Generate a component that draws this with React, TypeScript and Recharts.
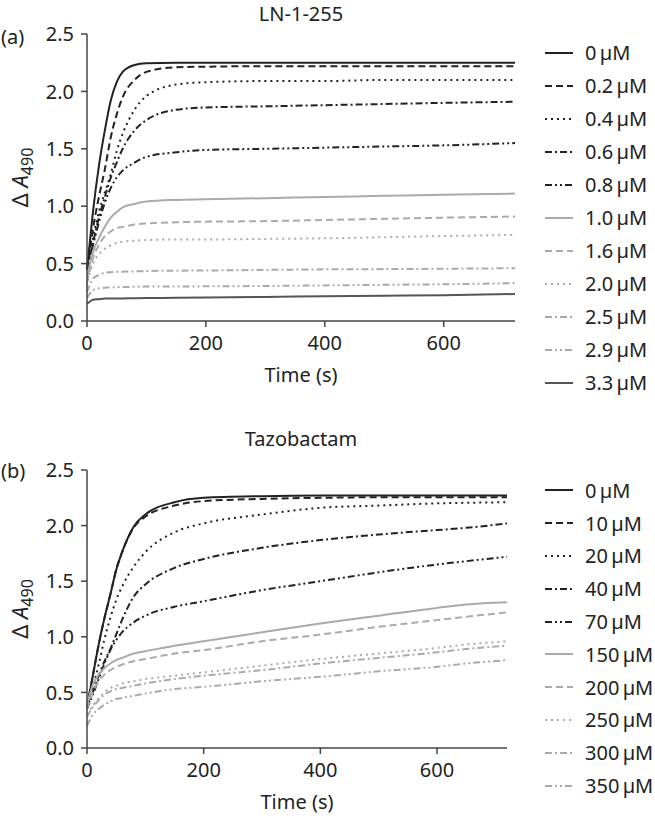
import { LineChart, Line, XAxis, YAxis } from 'recharts';

const FONT = '"Noto Sans", sans-serif';
const INK = '#222';
const GREY = '#aaa';
const DARK_GREY = '#555';

// (a) LN-1-255
const timesA = [0, 5, 10, 20, 30, 40, 50, 60, 80, 100, 150, 200, 300, 400, 500, 600, 720];
const labelsA = ['0\u2009µM', '0.2\u2009µM', '0.4\u2009µM', '0.6\u2009µM', '0.8\u2009µM', '1.0\u2009µM', '1.6\u2009µM', '2.0\u2009µM', '2.5\u2009µM', '2.9\u2009µM', '3.3\u2009µM'];
const ln0 = [0.45, 0.7, 0.95, 1.35, 1.66, 1.92, 2.08, 2.17, 2.23, 2.245, 2.25, 2.25, 2.25, 2.25, 2.25, 2.25, 2.25];
const ln02 = [0.45, 0.62, 0.8, 1.08, 1.32, 1.6, 1.8, 1.95, 2.1, 2.17, 2.21, 2.215, 2.22, 2.22, 2.22, 2.22, 2.22];
const ln04 = [0.45, 0.58, 0.72, 0.95, 1.12, 1.28, 1.48, 1.63, 1.84, 1.96, 2.06, 2.08, 2.09, 2.09, 2.1, 2.1, 2.1];
const ln06 = [0.45, 0.57, 0.68, 0.9, 1.08, 1.25, 1.38, 1.5, 1.66, 1.75, 1.84, 1.86, 1.87, 1.88, 1.89, 1.9, 1.91];
const ln08 = [0.45, 0.56, 0.66, 0.86, 1.03, 1.16, 1.25, 1.31, 1.38, 1.43, 1.47, 1.49, 1.5, 1.51, 1.52, 1.53, 1.55];
const ln10 = [0.35, 0.5, 0.6, 0.72, 0.82, 0.9, 0.95, 0.99, 1.02, 1.04, 1.055, 1.06, 1.07, 1.08, 1.09, 1.1, 1.11];
const ln16 = [0.33, 0.45, 0.55, 0.66, 0.74, 0.78, 0.81, 0.82, 0.84, 0.85, 0.86, 0.865, 0.87, 0.88, 0.89, 0.9, 0.91];
const ln20 = [0.3, 0.42, 0.5, 0.58, 0.63, 0.66, 0.68, 0.69, 0.7, 0.705, 0.71, 0.71, 0.715, 0.72, 0.73, 0.74, 0.75];
const ln25 = [0.25, 0.32, 0.37, 0.4, 0.42, 0.425, 0.43, 0.43, 0.432, 0.435, 0.438, 0.44, 0.445, 0.45, 0.452, 0.455, 0.46];
const ln29 = [0.2, 0.24, 0.27, 0.285, 0.29, 0.292, 0.295, 0.296, 0.298, 0.3, 0.3, 0.302, 0.305, 0.31, 0.315, 0.32, 0.33];
const ln33 = [0.15, 0.17, 0.185, 0.19, 0.195, 0.195, 0.196, 0.197, 0.198, 0.2, 0.202, 0.205, 0.21, 0.215, 0.22, 0.225, 0.235];

// (b) Tazobactam
const timesB = [0, 10, 20, 30, 40, 50, 60, 80, 100, 150, 200, 300, 400, 500, 600, 650, 720];
const labelsB = ['0\u2009µM', '10\u2009µM', '20\u2009µM', '40\u2009µM', '70\u2009µM', '150\u2009µM', '200\u2009µM', '250\u2009µM', '300\u2009µM', '350\u2009µM'];
const tz0 = [0.37, 0.65, 0.93, 1.17, 1.38, 1.6, 1.76, 1.99, 2.1, 2.21, 2.25, 2.265, 2.27, 2.27, 2.27, 2.27, 2.27];
const tz10 = [0.37, 0.65, 0.93, 1.17, 1.38, 1.6, 1.76, 1.98, 2.08, 2.18, 2.22, 2.24, 2.25, 2.255, 2.255, 2.255, 2.255];
const tz20 = [0.37, 0.55, 0.75, 0.98, 1.17, 1.33, 1.45, 1.63, 1.76, 1.94, 2.02, 2.1, 2.16, 2.18, 2.2, 2.205, 2.21];
const tz40 = [0.37, 0.5, 0.65, 0.78, 0.89, 1.02, 1.15, 1.36, 1.47, 1.62, 1.7, 1.8, 1.87, 1.92, 1.96, 1.98, 2.02];
const tz70 = [0.35, 0.48, 0.62, 0.76, 0.88, 0.97, 1.04, 1.13, 1.19, 1.27, 1.32, 1.42, 1.5, 1.58, 1.65, 1.68, 1.72];
const tz150 = [0.38, 0.57, 0.66, 0.72, 0.76, 0.79, 0.81, 0.85, 0.87, 0.92, 0.96, 1.04, 1.12, 1.19, 1.26, 1.29, 1.31];
const tz200 = [0.35, 0.5, 0.6, 0.66, 0.7, 0.73, 0.75, 0.78, 0.8, 0.85, 0.88, 0.96, 1.02, 1.09, 1.15, 1.18, 1.22];
const tz250 = [0.3, 0.38, 0.45, 0.5, 0.54, 0.56, 0.58, 0.6, 0.62, 0.65, 0.68, 0.74, 0.8, 0.85, 0.9, 0.93, 0.96];
const tz300 = [0.28, 0.37, 0.43, 0.48, 0.51, 0.53, 0.54, 0.56, 0.58, 0.62, 0.65, 0.7, 0.76, 0.81, 0.86, 0.89, 0.92];
const tz350 = [0.2, 0.3, 0.35, 0.39, 0.42, 0.44, 0.45, 0.47, 0.49, 0.53, 0.55, 0.6, 0.64, 0.69, 0.73, 0.76, 0.79];

const yTicks = [0, 0.5, 1, 1.5, 2, 2.5];
const xTicks = [0, 200, 400, 600];

const SOLID = undefined;
const DASH = '7 4';
const DOT = '2 4';
const DASH_DOT = '7 3 2 3';
const DASH_DOT_DOT = '7 3 2 3 2 3';

type LineStyle = { color: string; dash?: string };

const stylesA: LineStyle[] = [
  { color: INK, dash: SOLID },
  { color: INK, dash: DASH },
  { color: INK, dash: DOT },
  { color: INK, dash: DASH_DOT },
  { color: INK, dash: DASH_DOT_DOT },
  { color: GREY, dash: SOLID },
  { color: GREY, dash: DASH },
  { color: GREY, dash: DOT },
  { color: GREY, dash: DASH_DOT },
  { color: GREY, dash: DASH_DOT_DOT },
  { color: DARK_GREY, dash: SOLID },
];
const stylesB = stylesA.slice(0, 10);

const FS = 20;

const buildRows = (times: number[], series: number[][]) =>
  times.map((t, i) => {
    const row: Record<string, number> = { t };
    series.forEach((s, k) => {
      row[`s${k}`] = s[i];
    });
    return row;
  });

const tick = { fill: INK, fontSize: FS, fontFamily: FONT };
const axisLine = { stroke: '#444', strokeWidth: 1.5 };

function YTitle({ viewBox }: any) {
  const cx = 28;
  const cy = viewBox ? viewBox.y + viewBox.height / 2 : 0;
  return (
    <text
      x={cx}
      y={cy}
      transform={`rotate(-90, ${cx}, ${cy})`}
      textAnchor="middle"
      fill={INK}
      fontFamily={FONT}
      fontSize={22}
    >
      <tspan>Δ </tspan>
      <tspan fontStyle="italic">A</tspan>
      <tspan fontSize={16} dy={5}>490</tspan>
    </text>
  );
}

function XTitle({ viewBox }: any) {
  const x = viewBox ? viewBox.x + viewBox.width / 2 : 0;
  const y = viewBox ? viewBox.y + 61 : 0;
  return (
    <text x={x} y={y} textAnchor="middle" fill={INK} fontFamily={FONT} fontSize={FS}>
      Time (s)
    </text>
  );
}

interface PanelProps {
  top: number;
  height: number;
  margin: { top: number; right: number; bottom: number; left: number };
  times: number[];
  series: number[][];
  labels: string[];
  styles: LineStyle[];
  title: string;
  tag: string;
  titleY: number;
  tagY: number;
  legendTop: number;
  legendStep: number;
}

function Panel(p: PanelProps) {
  const data = buildRows(p.times, p.series);
  return (
    <div style={{ position: 'absolute', left: 0, top: p.top, width: 655, height: p.height }}>
      <div style={{ position: 'absolute', left: 0, width: 602, top: p.titleY - 12, height: 24, lineHeight: '24px', fontFamily: FONT, fontSize: FS, color: INK }}>
        <span style={{ position: 'absolute', left: 301, transform: 'translateX(-50%)', whiteSpace: 'nowrap' }}>{p.title}</span>
      </div>
      <div style={{ position: 'absolute', left: 1, top: p.tagY - 12, height: 24, lineHeight: '24px', fontFamily: FONT, fontSize: FS, color: INK }}>
        {p.tag}
      </div>
      <LineChart width={655} height={p.height} data={data} margin={p.margin}>
        <XAxis
          dataKey="t"
          type="number"
          domain={[0, 720]}
          ticks={xTicks}
          interval={0}
          height={30}
          tick={tick}
          tickSize={6}
          tickMargin={9}
          axisLine={axisLine}
          tickLine={axisLine}
          label={{ content: (lp: any) => <XTitle viewBox={lp.viewBox} /> }}
        />
        <YAxis
          type="number"
          domain={[0, 2.5]}
          ticks={yTicks}
          interval={0}
          width={87}
          tick={tick}
          tickSize={6}
          tickMargin={7}
          tickFormatter={(v: number) => v.toFixed(1)}
          axisLine={axisLine}
          tickLine={axisLine}
          label={{ content: (lp: any) => <YTitle viewBox={lp.viewBox} /> }}
        />
        {p.series.map((_, k) => (
          <Line
            key={k}
            type="monotone"
            dataKey={`s${k}`}
            stroke={p.styles[k].color}
            strokeWidth={2}
            strokeDasharray={p.styles[k].dash}
            dot={false}
            isAnimationActive={false}
          />
        ))}
      </LineChart>
      <div style={{ position: 'absolute', left: 545, top: p.legendTop, fontFamily: FONT, fontSize: FS, color: INK }}>
        {p.labels.map((l, k) => (
          <div key={l} style={{ height: p.legendStep, display: 'flex', alignItems: 'center', whiteSpace: 'nowrap' }}>
            <svg width={28} height={10} style={{ display: 'block' }}>
              <line x1={0} y1={5} x2={28} y2={5} stroke={p.styles[k].color} strokeWidth={2} strokeDasharray={p.styles[k].dash} />
            </svg>
            <span style={{ marginLeft: 12 }}>{l}</span>
          </div>
        ))}
      </div>
    </div>
  );
}

export default function App() {
  return (
    <div style={{ position: 'absolute', left: 0, top: 0, width: 655, height: 819, background: '#fff' }}>
      <Panel
        top={0}
        height={400}
        margin={{ top: 34, right: 140, bottom: 49, left: 0 }}
        times={timesA}
        series={[ln0, ln02, ln04, ln06, ln08, ln10, ln16, ln20, ln25, ln29, ln33]}
        labels={labelsA}
        styles={stylesA}
        title="LN-1-255"
        tag="(a)"
        titleY={14}
        tagY={37}
        legendTop={36}
        legendStep={33}
      />
      <Panel
        top={410}
        height={409}
        margin={{ top: 60, right: 148, bottom: 41, left: 0 }}
        times={timesB}
        series={[tz0, tz10, tz20, tz40, tz70, tz150, tz200, tz250, tz300, tz350]}
        labels={labelsB}
        styles={stylesB}
        title="Tazobactam"
        tag="(b)"
        titleY={29}
        tagY={61}
        legendTop={64}
        legendStep={32.8}
      />
    </div>
  );
}
